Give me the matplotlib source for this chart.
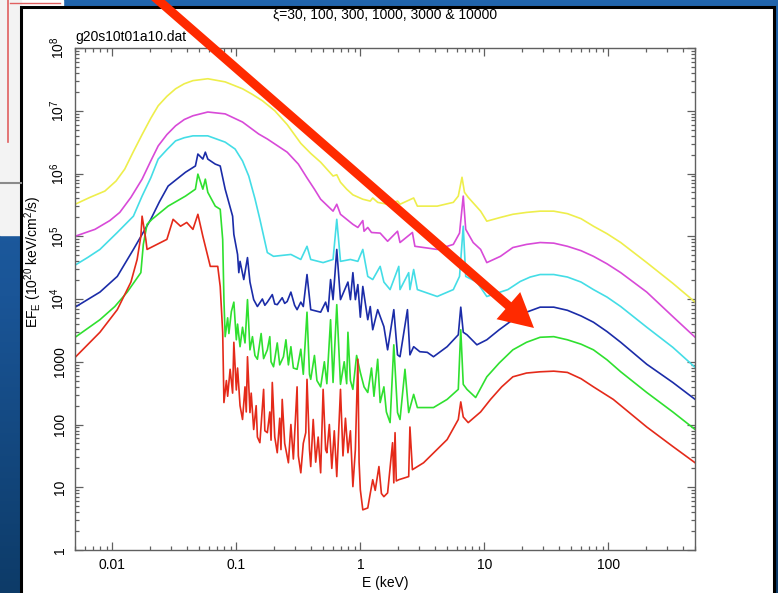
import numpy as np
import matplotlib
matplotlib.use("Agg")
import matplotlib.pyplot as plt
from matplotlib.patches import Rectangle, FancyArrow
from matplotlib.colors import LinearSegmentedColormap
from matplotlib.ticker import NullFormatter

plt.rcParams['font.family'] = ['Liberation Sans', 'DejaVu Sans']
plt.rcParams['mathtext.default'] = 'regular'

# spectra, as (log10 E/keV, log10 EF_E) pairs
yellow_pts = [(-2.30, 5.51), (-2.18, 5.62), (-2.06, 5.72), (-1.97, 5.88), (-1.90, 6.07),
              (-1.83, 6.35), (-1.76, 6.62), (-1.69, 6.88), (-1.63, 7.08), (-1.56, 7.23),
              (-1.49, 7.35), (-1.42, 7.43), (-1.35, 7.48), (-1.23, 7.51), (-1.09, 7.46),
              (-0.95, 7.35), (-0.87, 7.26), (-0.79, 7.16), (-0.69, 7.00), (-0.59, 6.78),
              (-0.48, 6.48), (-0.40, 6.32), (-0.32, 6.18), (-0.22, 5.96), (-0.19, 5.98),
              (-0.16, 5.86), (-0.11, 5.75), (-0.06, 5.66), (0.02, 5.59), (0.08, 5.56),
              (0.10, 5.61), (0.14, 5.54), (0.22, 5.51), (0.30, 5.56), (0.32, 5.51),
              (0.43, 5.61), (0.46, 5.48), (0.62, 5.48), (0.75, 5.54), (0.79, 5.64),
              (0.82, 5.94), (0.84, 5.70), (0.87, 5.62), (0.97, 5.40), (1.02, 5.24),
              (1.13, 5.30), (1.23, 5.35), (1.34, 5.38), (1.45, 5.40), (1.56, 5.40),
              (1.67, 5.36), (1.78, 5.28), (1.88, 5.16), (1.99, 5.04), (2.10, 4.90),
              (2.31, 4.58), (2.52, 4.25), (2.70, 3.95)]

magenta_pts = [(-2.30, 5.00), (-2.14, 5.11), (-2.02, 5.25), (-1.94, 5.38), (-1.85, 5.62),
               (-1.76, 5.91), (-1.69, 6.20), (-1.63, 6.44), (-1.56, 6.62), (-1.49, 6.76),
               (-1.42, 6.86), (-1.35, 6.92), (-1.23, 6.98), (-1.09, 6.95), (-0.95, 6.82),
               (-0.82, 6.63), (-0.75, 6.55), (-0.59, 6.34), (-0.50, 6.15), (-0.43, 5.93),
               (-0.37, 5.75), (-0.32, 5.59), (-0.22, 5.40), (-0.19, 5.51), (-0.16, 5.35),
               (-0.06, 5.19), (-0.02, 5.14), (0.02, 5.25), (0.03, 5.08), (0.06, 5.14),
               (0.09, 5.06), (0.16, 5.05), (0.22, 4.92), (0.30, 5.08), (0.32, 4.90),
               (0.42, 5.06), (0.44, 4.84), (0.62, 4.79), (0.75, 4.87), (0.80, 5.05),
               (0.83, 5.64), (0.85, 5.11), (0.91, 4.90), (0.97, 4.79), (1.02, 4.58),
               (1.13, 4.68), (1.23, 4.82), (1.34, 4.87), (1.45, 4.90), (1.56, 4.89),
               (1.67, 4.84), (1.78, 4.77), (1.88, 4.68), (1.99, 4.56), (2.10, 4.42),
               (2.31, 4.11), (2.52, 3.72), (2.70, 3.39)]

cyan_pts = [(-2.30, 4.54), (-2.20, 4.66), (-2.10, 4.79), (-1.96, 5.06), (-1.83, 5.32),
            (-1.76, 5.64), (-1.69, 5.93), (-1.63, 6.23), (-1.56, 6.38), (-1.49, 6.52),
            (-1.42, 6.57), (-1.35, 6.60), (-1.23, 6.60), (-1.09, 6.50), (-1.01, 6.39),
            (-0.95, 6.20), (-0.90, 5.96), (-0.85, 5.60), (-0.81, 5.27), (-0.75, 4.74),
            (-0.70, 4.68), (-0.56, 4.71), (-0.48, 4.63), (-0.43, 4.84), (-0.40, 4.63),
            (-0.30, 4.58), (-0.22, 4.63), (-0.19, 5.27), (-0.16, 4.60), (-0.08, 4.63),
            (-0.02, 4.60), (0.02, 4.79), (0.06, 4.36), (0.10, 4.31), (0.16, 4.52),
            (0.19, 4.27), (0.24, 4.15), (0.31, 4.52), (0.32, 4.15), (0.39, 4.42),
            (0.40, 4.15), (0.43, 4.47), (0.46, 4.15), (0.62, 4.04), (0.75, 4.15),
            (0.80, 4.36), (0.83, 5.16), (0.85, 4.36), (0.94, 4.27), (1.02, 4.04),
            (1.19, 4.15), (1.29, 4.28), (1.37, 4.35), (1.45, 4.39), (1.56, 4.39),
            (1.67, 4.35), (1.78, 4.27), (1.88, 4.15), (1.99, 4.03), (2.10, 3.88),
            (2.31, 3.55), (2.52, 3.23), (2.70, 2.91)]

blue_pts = [(-2.30, 3.87), (-2.10, 4.11), (-1.96, 4.36), (-1.83, 4.79), (-1.76, 5.03),
            (-1.69, 5.27), (-1.62, 5.55), (-1.55, 5.80), (-1.41, 6.02), (-1.33, 6.12),
            (-1.31, 6.31), (-1.27, 6.23), (-1.25, 6.34), (-1.23, 6.23), (-1.17, 6.15),
            (-1.13, 6.12), (-1.09, 5.75), (-1.03, 5.32), (-1.02, 5.03), (-0.99, 4.71),
            (-0.98, 4.42), (-0.97, 4.60), (-0.94, 4.31), (-0.91, 4.66), (-0.89, 4.27),
            (-0.86, 3.99), (-0.83, 3.88), (-0.79, 4.00), (-0.77, 3.90), (-0.75, 3.95),
            (-0.71, 4.07), (-0.69, 3.92), (-0.67, 3.91), (-0.63, 4.02), (-0.61, 3.93),
            (-0.59, 3.96), (-0.56, 4.11), (-0.53, 3.90), (-0.51, 3.83), (-0.48, 3.95),
            (-0.46, 3.88), (-0.43, 4.39), (-0.40, 3.83), (-0.32, 3.79), (-0.28, 3.95),
            (-0.26, 3.80), (-0.24, 4.31), (-0.22, 3.99), (-0.19, 4.79), (-0.16, 3.99),
            (-0.10, 4.27), (-0.08, 3.99), (-0.06, 4.42), (-0.04, 3.99), (-0.02, 4.23),
            (0.00, 3.71), (0.02, 4.20), (0.06, 3.67), (0.08, 3.88), (0.10, 3.51),
            (0.14, 3.83), (0.19, 3.56), (0.22, 3.19), (0.27, 3.83), (0.30, 3.11),
            (0.32, 3.08), (0.38, 3.83), (0.40, 3.11), (0.43, 3.24), (0.48, 3.16),
            (0.54, 3.15), (0.59, 3.08), (0.70, 3.24), (0.79, 3.43), (0.81, 3.87),
            (0.83, 3.47), (0.86, 3.43), (0.94, 3.27), (1.02, 3.35), (1.12, 3.51),
            (1.23, 3.67), (1.34, 3.79), (1.45, 3.87), (1.56, 3.87), (1.67, 3.82),
            (1.78, 3.73), (1.88, 3.63), (1.99, 3.48), (2.10, 3.31), (2.31, 2.96),
            (2.52, 2.67), (2.70, 2.40)]

green_pts = [(-2.30, 3.39), (-2.10, 3.67), (-1.98, 3.88), (-1.88, 4.11), (-1.77, 4.42),
             (-1.75, 4.87), (-1.72, 5.19), (-1.68, 5.27), (-1.55, 5.48), (-1.41, 5.64),
             (-1.33, 5.75), (-1.31, 5.99), (-1.27, 5.75), (-1.25, 5.91), (-1.23, 5.70),
             (-1.17, 5.48), (-1.13, 5.43), (-1.11, 4.95), (-1.10, 3.99), (-1.09, 3.40),
             (-1.07, 3.70), (-1.06, 3.45), (-1.04, 3.80), (-1.02, 3.95), (-1.00, 3.35),
             (-0.99, 3.60), (-0.97, 3.24), (-0.95, 3.55), (-0.93, 3.30), (-0.91, 3.99),
             (-0.89, 3.19), (-0.87, 3.40), (-0.85, 3.10), (-0.83, 3.04), (-0.80, 3.45),
             (-0.78, 3.05), (-0.75, 3.19), (-0.73, 3.40), (-0.72, 3.00), (-0.70, 2.92),
             (-0.67, 3.30), (-0.65, 2.95), (-0.62, 3.08), (-0.60, 3.35), (-0.58, 2.95),
             (-0.56, 3.24), (-0.54, 2.90), (-0.51, 2.88), (-0.48, 3.20), (-0.46, 2.80),
             (-0.43, 3.79), (-0.41, 2.80), (-0.40, 2.72), (-0.37, 3.10), (-0.35, 2.70),
             (-0.32, 2.60), (-0.29, 3.00), (-0.27, 2.65), (-0.24, 3.67), (-0.22, 2.67),
             (-0.19, 3.91), (-0.16, 2.64), (-0.13, 3.00), (-0.11, 2.65), (-0.10, 3.47),
             (-0.08, 2.70), (-0.06, 2.56), (-0.03, 3.10), (0.00, 2.83), (0.03, 2.60),
             (0.06, 2.51), (0.09, 2.90), (0.11, 2.45), (0.14, 3.04), (0.16, 2.35),
             (0.19, 2.60), (0.21, 2.20), (0.24, 2.03), (0.27, 3.27), (0.30, 2.19),
             (0.32, 2.08), (0.36, 2.88), (0.39, 2.19), (0.43, 2.48), (0.46, 2.27),
             (0.59, 2.27), (0.70, 2.40), (0.79, 2.56), (0.81, 3.51), (0.83, 2.64),
             (0.86, 2.56), (0.93, 2.43), (1.02, 2.76), (1.12, 2.98), (1.23, 3.19),
             (1.34, 3.31), (1.45, 3.39), (1.56, 3.40), (1.67, 3.35), (1.78, 3.28),
             (1.88, 3.19), (1.99, 3.03), (2.10, 2.84), (2.31, 2.51), (2.52, 2.20),
             (2.70, 1.92)]

red_pts = [(-2.30, 3.07), (-2.10, 3.47), (-1.96, 3.83), (-1.85, 4.27), (-1.80, 4.63),
           (-1.77, 5.00), (-1.76, 5.32), (-1.73, 4.95), (-1.72, 4.79), (-1.67, 4.84),
           (-1.56, 4.95), (-1.51, 5.27), (-1.45, 5.16), (-1.40, 5.22), (-1.35, 5.11),
           (-1.31, 5.35), (-1.27, 5.00), (-1.21, 4.52), (-1.15, 4.52), (-1.13, 4.20),
           (-1.11, 3.47), (-1.10, 2.35), (-1.08, 2.70), (-1.07, 2.45), (-1.05, 2.88),
           (-1.03, 2.50), (-1.02, 3.31), (-1.00, 2.55), (-0.99, 2.90), (-0.97, 2.30),
           (-0.95, 2.08), (-0.93, 2.60), (-0.92, 2.20), (-0.91, 3.08), (-0.89, 2.19),
           (-0.88, 2.50), (-0.86, 1.92), (-0.84, 2.30), (-0.83, 1.80), (-0.81, 1.71),
           (-0.78, 2.56), (-0.77, 1.90), (-0.75, 1.87), (-0.73, 2.20), (-0.72, 1.75),
           (-0.71, 2.67), (-0.69, 1.80), (-0.67, 1.55), (-0.65, 2.10), (-0.64, 1.60),
           (-0.63, 2.40), (-0.61, 1.70), (-0.58, 1.39), (-0.56, 2.00), (-0.54, 1.45),
           (-0.51, 2.60), (-0.50, 1.50), (-0.48, 1.23), (-0.46, 1.70), (-0.44, 1.87),
           (-0.43, 2.72), (-0.41, 1.60), (-0.40, 1.33), (-0.38, 2.08), (-0.36, 1.40),
           (-0.34, 1.80), (-0.32, 1.23), (-0.30, 2.56), (-0.28, 1.60), (-0.27, 1.55),
           (-0.25, 2.00), (-0.23, 1.30), (-0.21, 1.90), (-0.19, 1.17), (-0.16, 2.56),
           (-0.14, 1.50), (-0.12, 2.10), (-0.10, 1.55), (-0.08, 1.90), (-0.06, 1.01),
           (-0.04, 1.60), (-0.02, 3.04), (-0.01, 1.40), (0.00, 0.96), (0.02, 0.64),
           (0.06, 0.67), (0.08, 0.90), (0.10, 1.12), (0.12, 0.95), (0.15, 1.33),
           (0.17, 0.90), (0.19, 0.85), (0.22, 0.91), (0.26, 1.71), (0.27, 1.07),
           (0.28, 1.87), (0.29, 1.10), (0.31, 1.12), (0.39, 1.17), (0.40, 1.96),
           (0.42, 1.28), (0.51, 1.39), (0.70, 1.76), (0.79, 2.08), (0.81, 2.36),
           (0.83, 2.12), (0.87, 2.03), (0.97, 2.20), (1.05, 2.40), (1.14, 2.60),
           (1.23, 2.76), (1.34, 2.82), (1.45, 2.84), (1.56, 2.85), (1.67, 2.83),
           (1.78, 2.73), (1.88, 2.60), (2.04, 2.40), (2.31, 1.96), (2.52, 1.65),
           (2.70, 1.39)]

curve_colors = ['#eeee4c', '#d84ad8', '#44dde6', '#1b2ca8', '#2fe02f', '#e42a1a']

xticks = [0.01, 0.1, 1, 10, 100]
xtick_labels = ['0.01', '0.1', '1', '10', '100']
yticks = [1, 10, 100, 1000, 1e4, 1e5, 1e6, 1e7, 1e8]
ytick_labels = ['1', '10', '100', '1000', '10$^4$', '10$^5$', '10$^6$', '10$^7$', '10$^8$']

W, H = 778, 593
fig = plt.figure(figsize=(W / 100, H / 100), dpi=100)

# slide behind the plot (pixel coordinates, y down)
bg = fig.add_axes([0, 0, 1, 1])
bg.set_xlim(0, W)
bg.set_ylim(H, 0)
bg.axis('off')
grad = np.linspace(0, 1, 256).reshape(-1, 1)
cmap = LinearSegmentedColormap.from_list('slide', ['#2165ad', '#1a5597', '#0d3b68'])
bg.imshow(grad, cmap=cmap, extent=[0, W, H, 0], aspect='auto')
bg.add_patch(Rectangle((0, 0), 63, 8, color='white'))
bg.add_patch(Rectangle((0, 0), 21, 235, color='#f3f3f3'))
bg.plot([8, 8], [0, 142], color='#e06060', lw=1.2)
bg.plot([10, 60], [3, 3], color='#e06060', lw=1.0)
bg.plot([0, 21], [183, 183], color='#8a8a8a', lw=1.5)
bg.add_patch(Rectangle((21, 7), 753, 600, facecolor='white', edgecolor='black', lw=2.2))

ax = fig.add_axes([75 / W, 1 - 550 / H, 620 / W, 502 / H])
ax.patch.set_alpha(0)
series = [yellow_pts, magenta_pts, cyan_pts, blue_pts, green_pts, red_pts]
for pts, c in zip(series, curve_colors):
    le, lf = np.array(pts).T
    ax.plot(10 ** le, 10 ** lf, color=c, lw=1.2)

ax.set_xscale('log')
ax.set_yscale('log')
ax.set_xlim(0.005, 500)
ax.set_ylim(1, 1e8)
ax.set_xticks(xticks, xtick_labels)
ax.set_yticks(yticks, ytick_labels)
ax.xaxis.set_minor_formatter(NullFormatter())
ax.yaxis.set_minor_formatter(NullFormatter())
ax.tick_params(which='both', direction='in', top=True, right=True,
               color='#606060', labelsize=10, width=0.9)
ax.tick_params(which='major', length=6)
ax.tick_params(which='minor', length=3)
ax.tick_params(axis='x', pad=6)
ax.tick_params(axis='y', labelrotation=90, pad=6)
for lab in ax.get_yticklabels():
    lab.set_va('center')
for s in ax.spines.values():
    s.set_color('#606060')
    s.set_linewidth(1.0)

fig.text(385 / W, 1 - 15 / H, 'ξ=30, 100, 300, 1000, 3000 & 10000',
         ha='center', va='center', fontsize=10)
fig.text(75 / W, 1 - 37 / H, 'g20s10t01a10.dat', ha='left', va='center', fontsize=10)
fig.text(385 / W, 1 - 583 / H, 'E (keV)', ha='center', va='center', fontsize=10)
fig.text(33 / W, 1 - 262 / H, 'EF$_E$ (10$^{20}$ keV/cm$^2$/s)', rotation=90,
         ha='center', va='center', fontsize=10)

# red arrow drawn over the slide
ov = fig.add_axes([0, 0, 1, 1], zorder=10)
ov.set_xlim(0, W)
ov.set_ylim(H, 0)
ov.axis('off')
ov.patch.set_alpha(0)
ov.add_patch(FancyArrow(150, -7, 384, 335, width=9, head_width=36, head_length=34,
                        length_includes_head=True, color='#ff2a00', lw=0))

fig.savefig('out.png', dpi=100)
